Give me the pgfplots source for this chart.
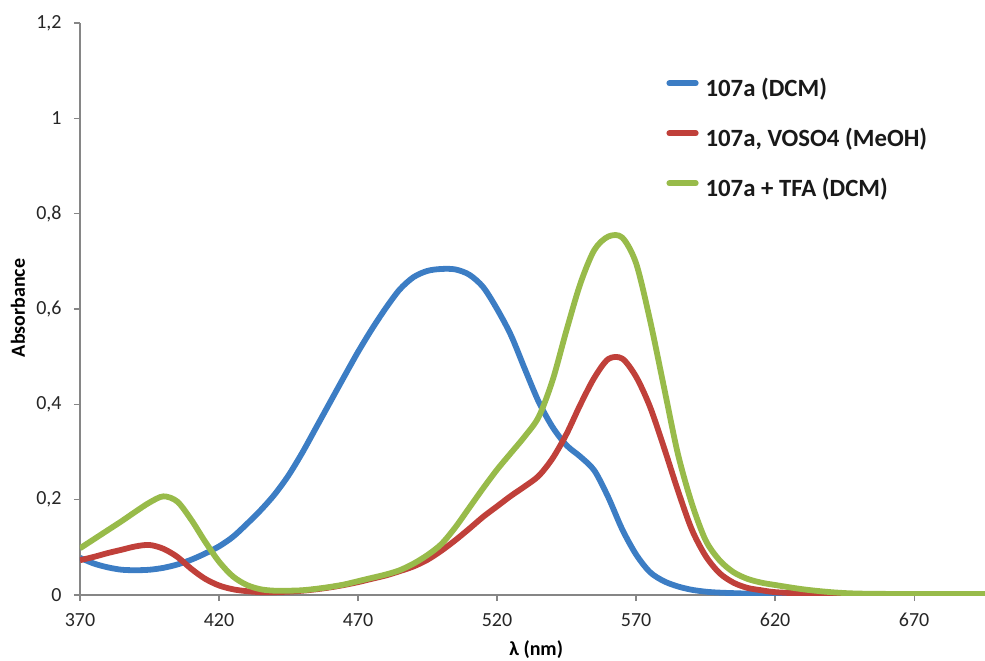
\documentclass[border=0pt]{standalone}
\usepackage{fontspec}
\setmainfont{Carlito}
\usepackage{pgfplots}
\pgfplotsset{compat=1.18}
\definecolor{cblue}{HTML}{3C7DC4}
\definecolor{cred}{HTML}{C0403A}
\definecolor{cgreen}{HTML}{98BB4A}
\definecolor{axgray}{HTML}{868686}
\begin{document}
\begin{tikzpicture}
\begin{axis}[
  scale only axis,
  width=452.5pt, height=286pt,
  xmin=370, xmax=695.5, ymin=0, ymax=1.2,
  axis x line=bottom, axis y line=left,
  axis line style={draw=axgray, line width=0.6pt, -},
  tick style={draw=axgray, line width=0.6pt},
  tick align=outside, major tick length=3pt,
  xtick={370,420,470,520,570,620,670},
  ytick={0,0.2,0.4,0.6,0.8,1,1.2},
  minor tick num=0,
  /pgf/number format/assume math mode=true,
  /pgf/number format/use comma,
  /pgf/number format/1000 sep={},
  yticklabel style={/pgf/number format/fixed, /pgf/number format/precision=1, anchor=east, inner sep=0pt, xshift=-6pt},
  xticklabel style={anchor=center, inner sep=0pt, yshift=-9.5pt},
  ticklabel style={font=\fontsize{10}{12}\selectfont, text=black!85},
  xlabel={\textbf{λ (nm)}},
  ylabel={\textbf{Absorbance}},
  xlabel style={at={(axis description cs:0.504,0)}, anchor=center, yshift=-27.5pt, font=\fontsize{10}{12}\selectfont},
  ylabel style={at={(axis description cs:-0.0685,0.502)}, anchor=center, font=\fontsize{10}{12}\selectfont},
  legend style={draw=none, fill=none, at={(rel axis cs:0.648,0.795)}, anchor=west,
    font=\fontsize{12.4}{14}\selectfont\bfseries, inner sep=0pt, outer sep=0pt,
    row sep=14pt, text=black!90,
    nodes={text height=8.5pt, text depth=2.5pt, inner sep=0pt, outer sep=0pt}},
  legend cell align=left,
  legend image code/.code={\draw[#1, line cap=round] (1.4pt,3.5pt) -- (14.6pt,3.5pt); \path[draw=none, fill=none] (19.5pt,3.5pt) -- (19.5pt,3.6pt);},
  every axis plot/.append style={line width=2.9pt, smooth, tension=0.5, no markers, line join=round},
]
\addplot[cblue] coordinates {
(370,0.078) (375,0.066) (380,0.058) (385,0.053) (390,0.052) (395,0.053) (400,0.057)
(405,0.064) (410,0.074) (415,0.087) (420,0.102) (425,0.122) (430,0.149) (435,0.178)
(440,0.211) (445,0.251) (450,0.299) (455,0.352) (460,0.405) (465,0.458) (470,0.510)
(475,0.558) (480,0.602) (485,0.641) (490,0.667) (495,0.680) (500,0.684) (505,0.683)
(510,0.672) (515,0.646) (520,0.600) (525,0.545) (530,0.474) (535,0.405) (540,0.352)
(545,0.314) (550,0.290) (555,0.261) (560,0.205) (565,0.138) (570,0.085) (575,0.048)
(580,0.029) (585,0.018) (590,0.011) (595,0.007) (600,0.005) (610,0.003) (620,0.002)
(640,0.001) (660,0.001) (696,0.001)
};
\addlegendentry{107a (DCM)}
\addplot[cred] coordinates {
(370,0.073) (375,0.080) (380,0.088) (385,0.095) (390,0.102) (395,0.105) (400,0.097)
(405,0.080) (410,0.055) (415,0.034) (420,0.020) (425,0.012) (430,0.008) (435,0.006)
(440,0.006) (445,0.007) (450,0.009) (455,0.012) (460,0.016) (465,0.021) (470,0.027)
(475,0.034) (480,0.041) (485,0.050) (490,0.060) (495,0.074) (500,0.093) (505,0.115)
(510,0.139) (515,0.164) (520,0.186) (525,0.208) (530,0.228) (535,0.250) (540,0.287)
(545,0.338) (550,0.400) (555,0.456) (560,0.495) (565,0.496) (570,0.458) (575,0.395)
(580,0.310) (585,0.220) (590,0.138) (595,0.082) (600,0.046) (605,0.026) (610,0.015)
(615,0.010) (620,0.006) (630,0.003) (640,0.002) (650,0.001) (696,0.001)
};
\addlegendentry{107a, VOSO4 (MeOH)}
\addplot[cgreen] coordinates {
(370,0.098) (375,0.117) (380,0.136) (385,0.155) (390,0.175) (395,0.194) (400,0.207)
(405,0.196) (410,0.158) (415,0.112) (420,0.070) (425,0.039) (430,0.021) (435,0.012)
(440,0.009) (445,0.009) (450,0.010) (455,0.013) (460,0.017) (465,0.022) (470,0.029)
(475,0.036) (480,0.043) (485,0.052) (490,0.066) (495,0.084) (500,0.107) (505,0.142)
(510,0.183) (515,0.224) (520,0.263) (525,0.298) (530,0.333) (535,0.374) (540,0.451)
(545,0.556) (550,0.654) (555,0.724) (560,0.752) (565,0.750) (570,0.696) (575,0.577)
(580,0.437) (585,0.297) (590,0.193) (595,0.115) (600,0.073) (605,0.048) (610,0.034)
(615,0.026) (620,0.021) (630,0.012) (640,0.006) (650,0.003) (670,0.002) (696,0.002)
};
\addlegendentry{107a + TFA (DCM)}
\end{axis}
\pgfresetboundingbox
\path ([shift={(-40pt,-32.5pt)}]current axis.south west) rectangle ([shift={(0pt,11.5pt)}]current axis.north east);
\end{tikzpicture}
\end{document}
